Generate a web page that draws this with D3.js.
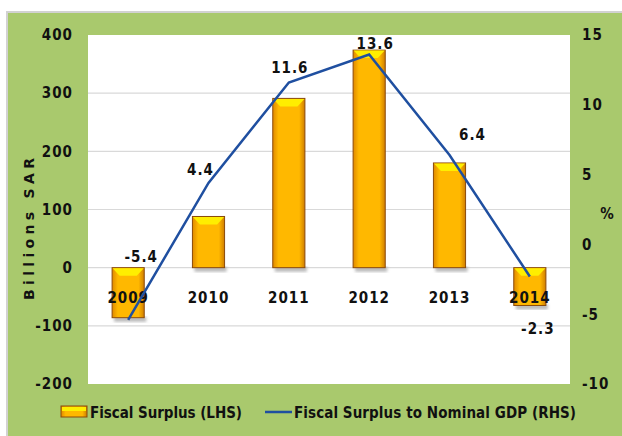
<!DOCTYPE html>
<html>
<head>
<meta charset="utf-8">
<script src="https://cdn.jsdelivr.net/npm/d3@7"></script>
<style>
  html, body { margin: 0; padding: 0; background: #fff; }
  svg text { font-family: "DejaVu Sans Condensed", "DejaVu Sans", sans-serif; font-weight: bold; fill: #111; }
</style>
</head>
<body>
<svg id="chart" width="622" height="436"></svg>
<script>
const years = ["2009", "2010", "2011", "2012", "2013", "2014"];
const surplus = [-86, 88, 291, 374, 180, -65];          // billions SAR (LHS)
const surplusGdp = [-5.4, 4.4, 11.6, 13.6, 6.4, -2.3];   // % of GDP (RHS)
const leftTicks = [-200, -100, 0, 100, 200, 300, 400];
const rightTicks = [-10, -5, 0, 5, 10, 15];
// label nudges relative to each line point (dx, dy)
const labelOffsets = [[13, -58], [-8, -8], [1, -9], [6, -6], [23, -15], [8, 57]];

const svg = d3.select("#chart");
const plot = { left: 88, right: 570, top: 35, bottom: 384 };

// outer frame
svg.append("rect").attr("x", 7).attr("y", 12).attr("width", 620).attr("height", 430)
    .attr("fill", "#a9c96d").attr("stroke", "#d2d2d2").attr("stroke-width", 2);
svg.append("rect").attr("x", plot.left).attr("y", plot.top)
    .attr("width", plot.right - plot.left).attr("height", plot.bottom - plot.top)
    .attr("fill", "#fff");

const x = d3.scaleBand().domain(years).range([plot.left, plot.right]).paddingInner(0.6).paddingOuter(0.3);
const yL = d3.scaleLinear().domain([-200, 400]).range([plot.bottom, plot.top]);
const yR = d3.scaleLinear().domain([-10, 15]).range([plot.bottom, plot.top]);

const defs = svg.append("defs");
const grad = defs.append("linearGradient").attr("id", "barGrad").attr("x1", 0).attr("x2", 1).attr("y1", 0).attr("y2", 0);
grad.append("stop").attr("offset", 0).attr("stop-color", "#e08a00");
grad.append("stop").attr("offset", 0.18).attr("stop-color", "#ffb800");
grad.append("stop").attr("offset", 0.82).attr("stop-color", "#ffb800");
grad.append("stop").attr("offset", 1).attr("stop-color", "#d07e00");
defs.append("filter").attr("id", "shadow").append("feGaussianBlur").attr("stdDeviation", 1.5);

// gridlines
svg.append("g").selectAll("line").data(leftTicks.slice(1, -1)).join("line")
    .attr("x1", plot.left).attr("x2", plot.right)
    .attr("y1", d => yL(d)).attr("y2", d => yL(d))
    .attr("stroke", "#d9d9d9").attr("stroke-width", 1.2);

// left axis
const axL = svg.append("g").attr("transform", `translate(${plot.left - 15},0)`)
    .call(d3.axisLeft(yL).tickValues(leftTicks).tickSize(0).tickPadding(0).tickFormat(d => String(d)));
axL.select(".domain").remove();
axL.selectAll("text").style("font-size", "15px").attr("letter-spacing", "1px");

// right axis
const axR = svg.append("g").attr("transform", `translate(${plot.right + 12},0)`)
    .call(d3.axisRight(yR).tickValues(rightTicks).tickSize(0).tickPadding(0).tickFormat(d => String(d)));
axR.select(".domain").remove();
axR.selectAll("text").style("font-size", "15px").attr("letter-spacing", "1px");

svg.append("text").attr("transform", "translate(34,229) rotate(-90)")
    .attr("text-anchor", "middle").style("font-size", "14px")
    .attr("textLength", 142).attr("lengthAdjust", "spacing")
    .style("font-family", "'DejaVu Sans', sans-serif").text("Billions SAR");
svg.append("text").attr("x", 607).attr("y", 219).attr("text-anchor", "middle")
    .style("font-size", "15px").text("%");

// bars
const bars = svg.append("g").selectAll("g").data(years).join("g");
const bw = x.bandwidth();
bars.append("rect")
    .attr("x", d => x(d) + 2).attr("width", bw)
    .attr("y", (d, i) => Math.max(yL(surplus[i]), yL(0)) - 1).attr("height", 5)
    .attr("fill", "#888").attr("opacity", 0.6).attr("filter", "url(#shadow)");
bars.append("rect")
    .attr("x", d => x(d)).attr("width", bw)
    .attr("y", (d, i) => Math.min(yL(surplus[i]), yL(0)))
    .attr("height", (d, i) => Math.abs(yL(surplus[i]) - yL(0)))
    .attr("fill", "url(#barGrad)").attr("stroke", "#8a4a0a").attr("stroke-width", 1);
bars.append("path")
    .attr("fill", "#ffee00")
    .attr("d", (d, i) => {
        const top = Math.min(yL(surplus[i]), yL(0));
        const x0 = x(d) + 0.5, x1 = x(d) + bw - 0.5;
        return `M${x0},${top + 0.5} L${x1},${top + 0.5} L${x1 - 7},${top + 8} L${x0 + 7},${top + 8} Z`;
    });

// category labels
svg.append("g").selectAll("text").data(years).join("text")
    .attr("x", d => x(d) + bw / 2).attr("y", yL(0) + 35)
    .attr("text-anchor", "middle").style("font-size", "15px").attr("letter-spacing", "1px")
    .text(d => d);

// line
const line = d3.line().x((d, i) => x(years[i]) + bw / 2).y(d => yR(d));
svg.append("path").datum(surplusGdp).attr("d", line)
    .attr("fill", "none").attr("stroke", "#1f4fa0").attr("stroke-width", 2.5);

svg.append("g").selectAll("text").data(surplusGdp).join("text")
    .attr("x", (d, i) => x(years[i]) + bw / 2 + labelOffsets[i][0])
    .attr("y", (d, i) => yR(d) + labelOffsets[i][1])
    .attr("text-anchor", "middle").style("font-size", "15px").attr("letter-spacing", "1px")
    .text(d => d.toFixed(1));

// legend
const lg = svg.append("g").attr("transform", "translate(0,412)");
lg.append("rect").attr("x", 61).attr("y", -6).attr("width", 26).attr("height", 11)
    .attr("fill", "url(#barGrad)").attr("stroke", "#8a4a0a");
lg.append("rect").attr("x", 62).attr("y", -5).attr("width", 24).attr("height", 4).attr("fill", "#ffee00");
lg.append("text").attr("x", 90).attr("y", 6).style("font-size", "15px")
    .attr("textLength", 152).attr("lengthAdjust", "spacing")
    .text("Fiscal Surplus (LHS)");
lg.append("line").attr("x1", 265).attr("x2", 292).attr("y1", 0).attr("y2", 0)
    .attr("stroke", "#1f4fa0").attr("stroke-width", 2.5);
lg.append("text").attr("x", 294).attr("y", 6).style("font-size", "15px")
    .attr("textLength", 282).attr("lengthAdjust", "spacing")
    .text("Fiscal Surplus to Nominal GDP (RHS)");
</script>
</body>
</html>
